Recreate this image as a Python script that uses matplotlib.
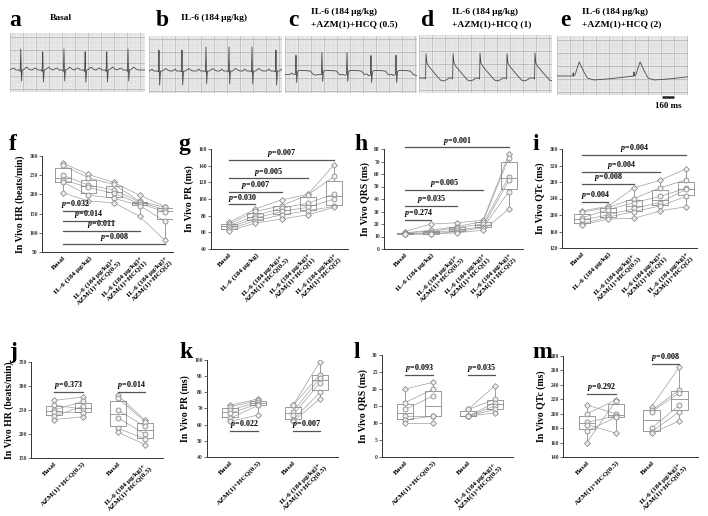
import numpy as np
import matplotlib
matplotlib.use('Agg')
import matplotlib.pyplot as plt
from matplotlib.ticker import MultipleLocator

plt.rcParams['font.family'] = ['Liberation Serif', 'DejaVu Serif']
plt.rcParams['font.weight'] = 'bold'
plt.rcParams['mathtext.fontset'] = 'custom'
plt.rcParams['mathtext.it'] = 'Liberation Serif:italic:bold'
plt.rcParams['mathtext.rm'] = 'Liberation Serif:bold'

# ------------------------------------------------------------------ data
cat5 = ["Basal", "IL-6 (184 μg/kg)", "IL-6 (184 μg/kg)+\nAZM(1)+HCQ(0.5)",
        "IL-6 (184 μg/kg)+\nAZM(1)+HCQ(1)", "IL-6 (184 μg/kg)+\nAZM(1)+HCQ(2)"]
cat4 = ["Basal", "AZM(1)+HCQ(0.5)", "Basal", "IL-6 (184 μg/kg)+\nAZM(1)+HCQ(0.5)"]

hr_f = [[281, 276, 250, 238, 232, 204], [252, 243, 224, 218, 198, 183],
        [231, 226, 212, 203, 190, 178], [198, 182, 180, 176, 171, 143],
        [168, 166, 160, 155, 130, 80]]
pr_g = [[72, 70, 68, 66, 64, 62], [88, 85, 80, 77, 74, 71],
        [99, 92, 89, 85, 81, 76], [105.5, 105, 95, 90, 86, 81],
        [141, 127, 106, 100, 91, 90]]
qrs_h = [[14, 13, 13, 12, 12, 12], [20, 15, 14, 13, 12, 12],
         [21, 18, 17, 15, 14, 13], [23, 22, 20, 18, 17, 15],
         [76, 73, 58, 55, 46, 32]]
qtc_i = [[210, 207, 193, 188, 179, 176], [221, 218, 213, 200, 195, 190],
         [266, 240, 230, 216, 208, 192], [284, 266, 245, 230, 222, 210],
         [312, 285, 265, 262, 245, 220]]

hr_j = [[270, 260, 250, 246, 237, 230], [277, 252, 268, 244, 258, 236],
        [281, 275, 250, 234, 212, 204], [229, 226, 216, 200, 190, 178]]
pr_k = [[72, 71, 69, 67, 64, 62], [76, 75, 74, 73, 72, 66],
        [72, 72, 68, 66, 63, 62], [99, 91, 89, 86, 80, 76]]
qrs_l = [[20, 16, 14, 12, 11, 10], [22, 20, 18, 12, 12, 10],
         [14, 14, 12, 12, 12, 12], [21, 17, 16, 15, 14, 13]]
qtc_m = [[212, 200, 188, 185, 176, 160], [200, 219, 197, 173, 195, 218],
         [210, 205, 203, 180, 175, 173], [265, 233, 229, 212, 203, 190]]

p_f = ["0.032", "0.014", "0.011", "0.008"]
p_g = ["0.030", "0.007", "0.005", "0.007"]
p_h = ["0.274", "0.035", "0.005", "0.001"]
p_i = ["0.004", "0.008", "0.004", "0.004"]
p_j = ["0.373", "0.014"]
p_k = ["0.022", "0.007"]
p_l = ["0.093", "0.035"]
p_m = ["0.292", "0.008"]

# ECG traces: beat times (ms) and one-beat templates (ms offset, amplitude)
beats_a = [150, 455, 750, 1045, 1345, 1640]
beats_b = [139, 459, 792, 1112, 1432, 1765]
beats_c = [153, 514, 862, 1195, 1543]
beats_d = [97, 473, 848, 1223, 1612]
beats_e = [250, 1095]
tmpl_a_t = [-150, -120, -95, -70, -20, -8, 0, 9, 20, 45, 80, 110, 140]
tmpl_a_v = [0, 1.5, 2, 0, 0, -1.5, 21, -12, 0, 0.5, 3, 1, 0]
tmpl_b_t = [-130, -100, -75, -20, -8, 0, 9, 20, 50, 90, 120, 150]
tmpl_b_v = [0, 2, 0, 0, -1, 24, -14, 0, 0, 2.5, 1, 0]
tmpl_c_t = [-90, -60, -30, -8, 0, 9, 20, 40, 120, 200, 240, 300, 340]
tmpl_c_v = [0, 1.5, 0, 0, 22, -8, 3, 4, 4, 3.5, 0, -1.5, 0]
tmpl_d_t = [-60, -20, -6, 0, 12, 35, 80, 140, 200, 240, 280, 320]
tmpl_d_v = [0, 0, -1, 25, 15, 12, 8, 3, -2, -3, -2, 0]
tmpl_e_t = [-80, -30, -25, -20, 0, 30, 60, 110, 170, 260, 450, 650, 800]
tmpl_e_v = [0, 0, 4, 0, 1, 8, 14, 6, -2, -4, -3, -1.5, 0]

# ------------------------------------------------------------------ layout
W, H = 708, 516
fig = plt.figure(figsize=(7.08, 5.16), dpi=100)


def rect(x0, y0, x1, y1):
    return [x0 / W, 1 - y1 / H, (x1 - x0) / W, (y1 - y0) / H]


MS_PER_PX = 13.9


def ecg(box, beats, tt, tv, base):
    x0, y0, x1, y1 = box
    ax = fig.add_axes(rect(*box))
    wms = (x1 - x0) * MS_PER_PX
    hh = (y1 - y0) / 2
    ax.set_xlim(0, wms)
    ax.set_ylim(-hh, hh)
    ax.set_facecolor('#ececec')
    ax.xaxis.set_major_locator(MultipleLocator(181))
    ax.xaxis.set_minor_locator(MultipleLocator(36.2))
    ax.yaxis.set_major_locator(MultipleLocator(13))
    ax.yaxis.set_minor_locator(MultipleLocator(2.6))
    ax.grid(which='minor', color='#d6d6d6', lw=0.35)
    ax.grid(which='major', color='#b4b4b4', lw=0.55)
    ax.tick_params(which='both', length=0, labelbottom=False, labelleft=False)
    for s in ax.spines.values():
        s.set_visible(False)
    t = np.arange(0, wms, 2.0)
    sig = np.full_like(t, base)
    for b in beats:
        sig += np.interp(t - b, tt, tv, left=0, right=0)
    ax.plot(t, sig, color='#4a4a4a', lw=0.6)
    return ax


ecg((10, 33, 145, 92), beats_a, tmpl_a_t, tmpl_a_v, -7.5)
ecg((149, 36, 282, 93), beats_b, tmpl_b_t, tmpl_b_v, -6.5)
ecg((285, 36, 417, 93), beats_c, tmpl_c_t, tmpl_c_v, -10)
ecg((419, 35, 552, 93), beats_d, tmpl_d_t, tmpl_d_v, -14)
ax_e = ecg((557, 36, 688, 95), beats_e, tmpl_e_t, tmpl_e_v, -10.5)
ax_e.plot([1460, 1620], [-31.5, -31.5], color='#222222', lw=1.8,
          clip_on=False, solid_capstyle='butt')
ax_e.text(1545, -37, "160 ms", ha='center', va='top', fontsize=6.5,
          fontweight='bold')


def ftext(x, y, s, **kw):
    fig.text(x / W, 1 - y / H, s, **kw)


# panel letters
for (x, y, s) in [(9, 26, 'a'), (156, 26, 'b'), (288, 26, 'c'), (421, 26, 'd'),
                  (560, 26, 'e'), (9, 150, 'f'), (178, 150, 'g'), (354, 150, 'h'),
                  (532, 150, 'i'), (9, 358, 'j'), (179, 358, 'k'), (354, 358, 'l'),
                  (532, 358, 'm')]:
    ftext(x, y, s, fontsize=17, fontweight='bold', va='baseline', ha='left')

tk = dict(fontsize=6.8, fontweight='bold', va='center', ha='left')
ftext(50, 18, "Basal", **tk)
ftext(181, 18, "IL-6 (184 μg/kg)", **tk)
ftext(311, 12, "IL-6 (184 μg/kg)", **tk)
ftext(311, 24, "+AZM(1)+HCQ (0.5)", **tk)
ftext(452, 12, "IL-6 (184 μg/kg)", **tk)
ftext(452, 24, "+AZM(1)+HCQ (1)", **tk)
ftext(582, 12, "IL-6 (184 μg/kg)", **tk)
ftext(582, 24, "+AZM(1)+HCQ (2)", **tk)

GRAY = '#8a8a8a'


def bpanel(box, groups, pos, xlim, ylim, ystep, ylabel, labels, pvals,
           bars, paired=False):
    ax = fig.add_axes(rect(*box))
    ax.boxplot(groups, positions=pos, widths=0.62, whis=(0, 100),
               showcaps=False, showfliers=False, patch_artist=False,
               manage_ticks=False,
               boxprops=dict(color=GRAY, lw=0.6),
               whiskerprops=dict(color=GRAY, lw=0.6),
               medianprops=dict(color=GRAY, lw=0.6))
    ax.set_xlim(*xlim)
    ax.set_ylim(*ylim)
    ax.yaxis.set_major_locator(MultipleLocator(ystep))
    for s in ['top', 'right']:
        ax.spines[s].set_visible(False)
    for s in ['left', 'bottom']:
        ax.spines[s].set_color('#333333')
        ax.spines[s].set_linewidth(0.7)
    ax.tick_params(axis='y', length=2, width=0.5, labelsize=4, pad=1,
                   colors='#333333')
    ax.tick_params(axis='x', length=0, pad=2)
    ax.set_xticks(pos)
    ax.set_xticklabels(labels, rotation=45, ha='right', rotation_mode='anchor',
                       fontsize=5.2, fontweight='bold', multialignment='center')
    ax.set_ylabel(ylabel, fontsize=7, fontweight='bold', labelpad=3)
    n = len(groups[0])
    if paired:
        segs = [(0, 1), (2, 3)]
    else:
        segs = [tuple(range(len(groups)))]
    for k in range(n):
        for seg in segs:
            ax.plot([pos[g] for g in seg], [groups[g][k] for g in seg],
                    color='#a0a0a0', lw=0.5, zorder=1)
    for gi, g in enumerate(groups):
        arr = np.array(g, dtype=float)
        imin, imax = int(np.argmin(arr)), int(np.argmax(arr))
        for k, v in enumerate(arr):
            mk = 'D' if k in (imin, imax) else 'o'
            ms = 3.0 if mk == 'D' else 3.6
            ax.plot(pos[gi], v, marker=mk, ms=ms, mfc='#f0f0f0', mec=GRAY,
                    mew=0.6, ls='none', zorder=3)
    for pv, (a, b, y) in zip(pvals, bars):
        ax.plot([pos[a], pos[b]], [y, y], color='#555555', lw=0.9,
                clip_on=False, zorder=4)
        ax.annotate(r"$p$=" + pv, xy=((pos[a] + pos[b]) / 2, y),
                    xytext=(0, 0.6), textcoords='offset points',
                    ha='center', va='bottom', fontsize=5.8, fontweight='bold',
                    annotation_clip=False)
    return ax


P5 = [0, 1, 2, 3, 4]
bpanel((42, 156, 173, 252), hr_f, P5, (-0.82, 4.31), (50, 300), 50,
       "In Vivo HR (beats/min)", cat5, p_f,
       [(0, 1, 157), (0, 2, 130), (0, 3, 104), (0, 4, 70)])
bpanel((211, 149, 348, 249), pr_g, P5, (-0.69, 4.53), (40, 160), 20,
       "In Vivo PR (ms)", cat5, p_g,
       [(0, 1, 93.6), (0, 2, 108.8), (0, 3, 124.8), (0, 4, 146.8)])
bpanel((384, 149, 523, 249), qrs_h, P5, (-0.81, 4.54), (0, 80), 10,
       "In Vivo QRS (ms)", cat5, p_h,
       [(0, 1, 23.2), (0, 2, 34.7), (0, 3, 47.2), (0, 4, 81.3)])
bpanel((562, 149, 697, 248), qtc_i, P5, (-0.77, 4.42), (120, 360), 40,
       "In Vivo QTc (ms)", cat5, p_i,
       [(0, 1, 232), (0, 2, 276), (0, 3, 304), (0, 4, 345.6)])

P4 = [0, 1.1, 2.45, 3.5]
X4 = (-0.9, 4.2)
bpanel((31, 362, 163, 458), hr_j, P4, X4, (150, 350), 50,
       "In Vivo HR (beats/min)", cat4, p_j, [(0, 1, 287), (2, 3, 287)],
       paired=True)
bpanel((207, 360, 338, 457), pr_k, P4, X4, (40, 100), 10,
       "In Vivo PR (ms)", cat4, p_k, [(0, 1, 56.3), (2, 3, 56.3)],
       paired=True)
bpanel((382, 355, 513, 457), qrs_l, P4, X4, (0, 30), 5,
       "In Vivo QRS (ms)", cat4, p_l, [(0, 1, 24.1), (2, 3, 24.1)],
       paired=True)
bpanel((563, 356, 698, 457), qtc_m, P4, X4, (140, 280), 20,
       "In Vivo QTc (ms)", cat4, p_m, [(0, 1, 227.4), (2, 3, 269.3)],
       paired=True)

fig.savefig("out.png", dpi=100)
